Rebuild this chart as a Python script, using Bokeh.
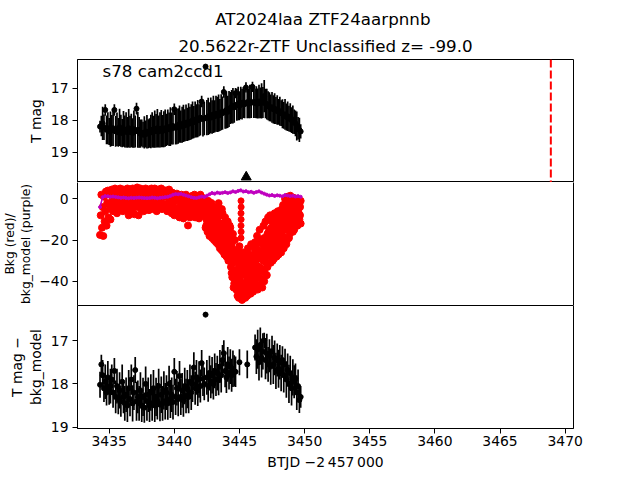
import numpy as np
from bokeh.plotting import figure
from bokeh.layouts import column
from bokeh.models import (Range1d, Span, Label, FixedTicker, ColumnDataSource, Title,
                          LinearAxis)
from bokeh.embed import file_html
from bokeh.resources import INLINE

nan = float("nan")

# ---------------- data ----------------
t_all = [
    3434.30, 3434.35, 3434.40, 3434.45, 3434.50, 3434.55, 3434.60, 3434.65, 3434.70, 3434.75,
    3434.80, 3434.85, 3434.90, 3434.95, 3435.00, 3435.05, 3435.10, 3435.15, 3435.20, 3435.25,
    3435.30, 3435.35, 3435.40, 3435.45, 3435.50, 3435.55, 3435.60, 3435.65, 3435.70, 3435.75,
    3435.80, 3435.85, 3435.90, 3435.95, 3436.00, 3436.05, 3436.10, 3436.15, 3436.20, 3436.25,
    3436.30, 3436.35, 3436.40, 3436.45, 3436.50, 3436.55, 3436.60, 3436.65, 3436.70, 3436.75,
    3436.80, 3436.85, 3436.90, 3436.95, 3437.00, 3437.05, 3437.10, 3437.15, 3437.20, 3437.25,
    3437.30, 3437.35, 3437.40, 3437.45, 3437.50, 3437.55, 3437.60, 3437.65, 3437.70, 3437.75,
    3437.80, 3437.85, 3437.90, 3437.95, 3438.00, 3438.05, 3438.10, 3438.15, 3438.20, 3438.25,
    3438.30, 3438.35, 3438.40, 3438.45, 3438.50, 3438.55, 3438.60, 3438.65, 3438.70, 3438.75,
    3438.80, 3438.85, 3438.90, 3438.95, 3439.00, 3439.05, 3439.10, 3439.15, 3439.20, 3439.25,
    3439.30, 3439.35, 3439.40, 3439.45, 3439.50, 3439.55, 3439.60, 3439.65, 3439.70, 3439.75,
    3439.80, 3439.85, 3439.90, 3439.95, 3440.00, 3440.05, 3440.10, 3440.15, 3440.20, 3440.25,
    3440.30, 3440.35, 3440.40, 3440.45, 3440.50, 3440.55, 3440.60, 3440.65, 3440.70, 3440.75,
    3440.80, 3440.85, 3440.90, 3440.95, 3441.00, 3441.05, 3441.10, 3441.15, 3441.20, 3441.25,
    3441.30, 3441.35, 3441.40, 3441.45, 3441.50, 3441.55, 3441.60, 3441.65, 3441.70, 3441.75,
    3441.80, 3441.85, 3441.90, 3441.95, 3442.00, 3442.05, 3442.10, 3442.15, 3442.20, 3442.25,
    3442.30, 3442.35, 3442.40, 3442.45, 3442.50, 3442.55, 3442.60, 3442.65, 3442.70, 3442.75,
    3442.80, 3442.85, 3442.90, 3442.95, 3443.00, 3443.05, 3443.10, 3443.15, 3443.20, 3443.25,
    3443.30, 3443.35, 3443.40, 3443.45, 3443.50, 3443.55, 3443.60, 3443.65, 3443.70, 3443.75,
    3443.80, 3443.85, 3443.90, 3443.95, 3444.00, 3444.05, 3444.10, 3444.15, 3444.20, 3444.25,
    3444.30, 3444.35, 3444.40, 3444.45, 3444.50, 3444.55, 3444.60, 3444.65, 3444.70, 3444.75,
    3444.80, 3444.85, 3444.90, 3444.95, 3445.00, 3445.05, 3445.10, 3445.15, 3445.20, 3445.25,
    3445.30, 3445.35, 3445.40, 3445.45, 3445.50, 3445.55, 3445.60, 3445.65, 3445.70, 3445.75,
    3445.80, 3445.85, 3445.90, 3445.95, 3446.00, 3446.05, 3446.10, 3446.15, 3446.20, 3446.25,
    3446.30, 3446.35, 3446.40, 3446.45, 3446.50, 3446.55, 3446.60, 3446.65, 3446.70, 3446.75,
    3446.80, 3446.85, 3446.90, 3446.95, 3447.00, 3447.05, 3447.10, 3447.15, 3447.20, 3447.25,
    3447.30, 3447.35, 3447.40, 3447.45, 3447.50, 3447.55, 3447.60, 3447.65, 3447.70, 3447.75,
    3447.80, 3447.85, 3447.90, 3447.95, 3448.00, 3448.05, 3448.10, 3448.15, 3448.20, 3448.25,
    3448.30, 3448.35, 3448.40, 3448.45, 3448.50, 3448.55, 3448.60, 3448.65, 3448.70, 3448.75,
    3448.80, 3448.85, 3448.90, 3448.95, 3449.00, 3449.05, 3449.10, 3449.15, 3449.20, 3449.25,
    3449.30, 3449.35, 3449.40, 3449.45, 3449.50, 3449.55, 3449.60, 3449.65, 3449.70,
]
t_top = t_all[::2]
t_model = t_all[::4]
t_dip = t_all[160:]

# top panel: T mag and its error
tmag = [
    18.20, 18.18, 18.10, 18.22, 17.68, 18.30, 18.25, 18.35, 18.28, 18.32,
    18.25, 17.68, 18.35, 18.28, 18.38, 18.22, 18.33, 18.40, 18.27, 18.35,
    18.30, 18.38, 18.25, 18.36, 18.32, 18.40, 18.28, 18.35, 17.64, 18.30,
    18.38, 18.42, 18.40, 18.45, 18.38, 18.43, 18.36, 18.42, 18.40, 18.35,
    18.30, 18.36, 18.28, 18.33, 18.25, 18.35, 18.30, 18.26, 18.34, 18.28,
    18.25, 18.30, 18.22, 18.28, 18.20, 18.26, 18.18, 17.66, 18.24, 18.20,
    18.18, 18.12, 18.20, 18.14, 18.10, 18.16, 18.08, 18.13, 18.05, 18.10,
    18.05, 18.00, 18.06, 17.98, 18.02, 17.95, 18.00, 17.92, 17.42, 17.96,
    17.95, 16.33, 17.92, 17.88, 17.94, 17.85, 17.90, 17.82, 17.88, 17.80,
    17.82, 17.78, 17.84, 17.75, 17.78, 17.12, 17.72, 17.68, 17.74, 17.65,
    17.62, 17.58, 17.55, 17.60, 17.16, 17.52, 17.48, 17.55, 17.46, 17.50,
    17.45, 17.50, 16.98, 17.44, 17.48, 17.42, 17.46, 16.96, 17.43, 17.47,
    17.44, 17.48, 17.42, 17.46, 17.40, 17.45, 17.25, 17.48, 17.50, 17.55,
    17.58, 17.62, 17.60, 17.66, 17.64, 17.70, 17.68, 17.74, 17.72, 17.78,
    17.80, 17.85, 17.82, 17.90, 17.88, 17.95, 17.92, 18.00, 17.98, 18.05,
    18.10, 18.18, 18.25, 18.30, 18.35,
]
tmag_err = [
    0.18, 0.32, 0.52, 0.40, 0.18, 0.45, 0.50, 0.42, 0.55, 0.48,
    0.55, 0.18, 0.48, 0.52, 0.45, 0.58, 0.50, 0.44, 0.56, 0.50,
    0.55, 0.48, 0.60, 0.50, 0.52, 0.46, 0.58, 0.50, 0.18, 0.56,
    0.48, 0.44, 0.42, 0.40, 0.50, 0.42, 0.52, 0.45, 0.46, 0.52,
    0.55, 0.50, 0.58, 0.52, 0.60, 0.50, 0.55, 0.58, 0.50, 0.56,
    0.58, 0.50, 0.55, 0.52, 0.60, 0.50, 0.58, 0.18, 0.52, 0.55,
    0.55, 0.58, 0.50, 0.56, 0.58, 0.50, 0.57, 0.52, 0.58, 0.52,
    0.55, 0.58, 0.50, 0.56, 0.52, 0.58, 0.50, 0.56, 0.18, 0.55,
    0.52, 0.05, 0.55, 0.58, 0.50, 0.56, 0.52, 0.58, 0.50, 0.56,
    0.55, 0.58, 0.50, 0.56, 0.52, 0.18, 0.55, 0.58, 0.50, 0.56,
    0.50, 0.52, 0.55, 0.48, 0.16, 0.50, 0.52, 0.45, 0.50, 0.48,
    0.48, 0.44, 0.16, 0.50, 0.46, 0.52, 0.47, 0.16, 0.50, 0.46,
    0.50, 0.47, 0.52, 0.48, 0.55, 0.48, 0.50, 0.46, 0.48, 0.45,
    0.45, 0.42, 0.48, 0.44, 0.48, 0.42, 0.46, 0.40, 0.45, 0.40,
    0.45, 0.42, 0.48, 0.42, 0.46, 0.40, 0.45, 0.40, 0.44, 0.38,
    0.40, 0.45, 0.35, 0.38, 0.22,
]

# middle panel: background flux (red) and background model (purple)
bkg = [
    -17.5, -8, 2, -14, -4, -18, 1, -11, -6, 3.5, -13, -2, 4, -9, -3, 2, -10, -5, 4.5, -1,
    -6, 3, -2, 5, -4, 1, -7, 4, -1, 2, -5, 5, 0, -3, 3, -6, 4.5, -2, 1, -4.5,
    3, -5, 5, -1, -8, 2, 4.5, -3, 0, -6, 5, -2, 3, -7.5, 1, 4, -4, 5.5, -1, -8,
    2, -3, 5, -5, 1, 4, -2, -6, 3, 0, 5, -4, 2, -1, 4.5, -5.5, 1, 3, -3, 5,
    -2, 4, -5, 1, 5, -3, 2, -6, 3.5, 0, 4.5, -4, 1, -1, 5, -5, 2, 3, -2.5, 4,
    -4, 4, 1, -6, 3, -2, 4.5, -5, 0, 2, -7, 3, -3, 1, -8, 2, -1, -5, 2.5, -6.5,
    1, -5, -9, 0, -3, 2, -7, -1, -9.5, 1.5, -4, -6, 2, -8, -2, -12.9, 0, -5, -9, 1,
    -3, -8, 1.5, -6, -1, 2, -9, -4, 0, -7, 1, -2, -9.5, -5, 2, -3, -8, 0.5, -6, -1,
    0, -8, -14, -3, -10.5, -16, -1, -12, -18, -5, -15, -2, -19, -9, -4, -20, -13, -6, -21, -11,
    -5, -22, -2.1, -14, -24, -8, -18, -25, -7, -20, -12, -27, -9, -22, -28, -15, -11, -30, -19, -25,
    -14, -33, -22, -38, -17, -28, -41, -20, -35, -44, -25, -47, -31, -48, -23, -40, -46, -28, -49, -36,
    -26, -45, -33, -48, -29, -40, -47, -24, -37, -44, -30, -46, -22, -41, -35, -45, -27, -39, -21, -43,
    -32, -18, -44, -26, -38, -15, -42, -29, -20, -43, -35, -13, -40, -24, -11, -31, -37, -17, -9, -28,
    -22, -8, -31, -14, -26, -10, -19, -29, -7, -24, -12, -28, -17, -6, -27, -21, -9, -15, -26, -5,
    -18, -3, -24, -10, 0, -15, -6, -20, 1, -12, -4, -17, 1.5, -9, -14, -2, -16, 0.5, -7, -12,
    -3, -11, 0, -13, -6, -1, -10, -4, -12,
]
# second background reading per cadence in the dip (from 3442.30 on)
bkg_dip = [
    -5, -2, -9, -13, -6, -11, -15, -8, -4, -14, -10, -17, -7, -13, -16, -11, -5, -18, -9, -15,
    -17, -11, -20, -8, -16, -21, -12, -5, -23, -15, -26, -18, -24, -14, -20, -26, -22, -17, -29, -13,
    -26, -19, -36, -24, -31, -43, -25, -38, -30, -27, -39, -34, -42, -29, -45, -33, -37, -43, -32, -47,
    -37, -31, -42, -35, -44, -33, -28, -42, -31, -27, -39, -34, -43, -28, -40, -31, -36, -24, -41, -33,
    -24, -38, -29, -35, -21, -33, -25, -39, -34, -27, -22, -30, -19, -36, -27, -20, -24, -33, -21, -16,
    -15, -27, -18, -22, -11, -30, -24, -13, -20, -16, -26, -9, -23, -19, -13, -11, -22, -25, -8, -18,
    -9, -21, -13, -5, -19, -8, -22, -2, -14, -7, -19, -10, -5, -16, -1, -11, -8, -13, -15, -3,
    -8, -5, -9, -2, -11, -7, -3, -8, -1,
]
t_spike = [3445.12, 3445.13, 3445.12, 3445.13, 3445.12, 3445.13, 3445.12]
bkg_spike = [-1, -4, -7, -10, -13, -16, -19]
bkg_model = [
    -4.0, 0.8, 1.3, 1.2, 1.0,
    1.1, 0.9, 0.7, 0.5, 0.6,
    0.4, 0.3, 0.5, 0.4, 0.5,
    0.6, 0.5, 0.4, 0.3, 0.4,
    0.6, 0.5, 0.3, 0.5, 0.6,
    0.8, 1.0, 1.4, 2.0, 2.3,
    2.2, 2.4, 2.0, 1.6, 1.2,
    0.8, 0.5, 0.4, 0.7, 1.1,
    0.9, 1.5, 2.2, 2.8, 2.5,
    3.0, 2.7, 2.9, 3.2, 2.8,
    3.1, 3.6, 3.3, 3.8, 4.1,
    3.5, 3.7, 3.2, 3.4, 2.9,
    3.3, 3.6, 3.0, 2.5, 2.0,
    1.6, 1.8, 1.4, 1.7, 1.5,
    1.2, 1.8, 1.6, 1.3, 1.5,
    1.1, 1.3, 1.0,
]

# bottom panel: T mag - bkg_model
tmag_corr = [
    18.02, 17.55, 17.80, 18.10, 17.95, 18.20, 17.85, 18.15, 18.05, 17.90,
    18.20, 17.70, 18.30, 18.05, 18.35, 18.15, 18.40, 17.95, 18.30, 18.45,
    18.25, 18.50, 18.10, 18.35, 17.90, 18.45, 18.20, 17.68, 18.40, 18.30,
    18.45, 18.15, 18.50, 18.30, 18.55, 18.00, 18.40, 18.25, 18.50, 18.20,
    18.45, 18.10, 18.50, 18.30, 18.40, 18.05, 18.48, 18.25, 18.45, 18.15,
    18.40, 18.20, 18.45, 18.00, 18.35, 18.25, 18.42, 17.72, 18.30, 18.10,
    18.35, 17.82, 18.30, 18.15, 18.38, 18.05, 18.28, 18.12, 18.30, 17.95,
    18.20, 18.00, 17.62, 18.10, 17.85, 18.15, 17.90, 18.05, 17.52, 17.88,
    18.00, 16.40, 17.85, 18.05, 17.75, 17.95, 17.80, 18.00, 17.70, 17.90,
    17.75, 17.90, 17.60, 17.80, 17.45, 17.29, 17.70, 17.85, 17.55, 17.75,
    17.60, 17.80, 17.65, 17.70, 17.72, nan, nan, 17.50, nan, nan,
    nan, nan, nan, 17.55, nan, nan, nan, nan, nan, 17.16,
    17.37, 17.20, 17.50, 17.10, 17.40, 17.25, 17.00, 17.45, 17.30, 17.55,
    17.35, 17.60, 17.25, 17.55, 17.40, 17.70, 17.45, 17.65, 17.50, 17.75,
    17.45, 17.80, 17.55, 17.90, 17.68, 18.00, 17.75, 18.10, 17.85, 17.95,
    17.88, 18.20, 18.05, 18.37, 18.30,
]
tmag_corr_err = [
    0.30, 0.22, 0.35, 0.32, 0.40, 0.30, 0.38, 0.33, 0.40, 0.35,
    0.35, 0.30, 0.38, 0.40, 0.35, 0.42, 0.36, 0.40, 0.38, 0.40,
    0.40, 0.38, 0.42, 0.40, 0.35, 0.42, 0.40, 0.30, 0.45, 0.38,
    0.40, 0.42, 0.38, 0.44, 0.35, 0.40, 0.45, 0.40, 0.38, 0.42,
    0.40, 0.42, 0.38, 0.44, 0.42, 0.40, 0.38, 0.42, 0.40, 0.44,
    0.42, 0.40, 0.38, 0.42, 0.44, 0.40, 0.40, 0.32, 0.42, 0.40,
    0.40, 0.35, 0.42, 0.40, 0.38, 0.42, 0.40, 0.44, 0.38, 0.40,
    0.40, 0.42, 0.35, 0.38, 0.40, 0.36, 0.42, 0.38, 0.30, 0.40,
    0.38, 0.06, 0.40, 0.36, 0.40, 0.38, 0.42, 0.36, 0.40, 0.38,
    0.40, 0.36, 0.38, 0.40, 0.35, 0.30, 0.38, 0.36, 0.40, 0.38,
    0.40, 0.38, 0.42, 0.36, 0.35, nan, nan, 0.30, nan, nan,
    nan, nan, nan, 0.32, nan, nan, nan, nan, nan, 0.30,
    0.40, 0.45, 0.42, 0.40, 0.45, 0.42, 0.18, 0.44, 0.46, 0.40,
    0.38, 0.42, 0.36, 0.45, 0.40, 0.42, 0.38, 0.44, 0.40, 0.42,
    0.32, 0.40, 0.36, 0.42, 0.38, 0.44, 0.40, 0.40, 0.42, 0.38,
    0.35, 0.40, 0.38, 0.30, 0.25,
]

tri_t = [3445.52]
tri_mag = [19.77]
peak_t = 3468.9

x_ticks = [3435, 3440, 3445, 3450, 3455, 3460, 3465, 3470]
top_ticks = [17, 18, 19]
mid_ticks = [0, -20, -40]
mid_tick_labels = {0: "0", -20: "\u221220", -40: "\u221240"}
bot_ticks = [17, 18, 19]

title_line1 = "AT2024laa  ZTF24aarpnnb"
title_line2 = "20.5622r-ZTF Unclassified z= -99.0"
sector_text = "s78 cam2ccd1"
x_label = "BTJD \u22122\u2009457\u2009000"

# ---------------- plotting ----------------
FONT = "DejaVu Sans"
xr = Range1d(3432.57, 3470.64)


def make_fig(yr, top_b, bottom_b, x_axis):
    p = figure(
        frame_width=496, frame_height=123,
        x_range=xr, y_range=yr,
        output_backend="svg", toolbar_location=None,
        min_border_left=72, min_border_right=52,
        min_border_top=top_b, min_border_bottom=bottom_b,
        x_axis_location="below" if x_axis else None,
        background_fill_color="white", border_fill_color="white",
    )
    p.grid.visible = False
    p.outline_line_color = "black"
    p.outline_line_width = 1
    for ax in p.yaxis:
        ax.major_label_text_font = FONT
        ax.major_label_text_font_size = "13.9px"
        ax.major_label_text_color = "black"
        ax.axis_label_text_font = FONT
        ax.axis_label_text_font_size = "13.9px"
        ax.axis_label_text_font_style = "normal"
        ax.axis_label_text_color = "black"
        ax.major_tick_out = 5
        ax.major_tick_in = 0
        ax.minor_tick_line_color = None
        ax.axis_line_color = "black"
        ax.major_tick_line_color = "black"
        ax.major_label_standoff = 4
        ax.axis_label_standoff = 4
    return p


def err_source(t, m, e):
    n = min(len(t), len(m), len(e))
    t = np.array(t[:n], dtype=float)
    m = np.array(m[:n], dtype=float)
    e = np.array(e[:n], dtype=float)
    return ColumnDataSource(dict(t=t, m=m, lo=m - e, hi=m + e))


def title(text, standoff):
    return Title(text=text, align="center", text_font=FONT, text_font_size="16.7px",
                 text_font_style="normal", text_color="black", standoff=standoff)


# top panel
p1 = make_fig(Range1d(19.94, 16.11), 59, 0, False)
p1.add_layout(title(title_line2, 8), "above")
p1.add_layout(title(title_line1, 2), "above")
s1 = err_source(t_top, tmag, tmag_err)
p1.segment(x0="t", y0="lo", x1="t", y1="hi", source=s1, line_color="black", line_width=1.7)
p1.scatter(x="t", y="m", source=s1, size=5, color="black")
p1.scatter(tri_t, tri_mag, marker="triangle", size=10, color="black")
p1.add_layout(Span(location=peak_t, dimension="height", line_color="red",
                   line_width=2, line_dash="8 3"))
p1.add_layout(Label(x=3434.49, y=16.48, text=sector_text, text_font=FONT,
                    text_font_size="16.7px", text_baseline="alphabetic",
                    text_color="black"))
p1.yaxis.ticker = FixedTicker(ticks=top_ticks)
p1.yaxis.axis_label = "T mag"

# middle panel (top/bottom edges come from the neighbouring panels' outlines)
p2 = make_fig(Range1d(-51.7, 7.9), 0, 0, False)
p2.outline_line_color = None
right_edge = LinearAxis(ticker=FixedTicker(ticks=[]), axis_line_color="black",
                        major_tick_line_color=None, minor_tick_line_color=None,
                        major_label_text_font_size="0px")
p2.add_layout(right_edge, "right")
n_b = min(len(t_all), len(bkg))
p2.scatter(t_all[:n_b], bkg[:n_b], size=7, color="red")
n_d = min(len(t_dip), len(bkg_dip))
p2.scatter(t_dip[:n_d], bkg_dip[:n_d], size=7, color="red")
p2.scatter(t_spike, bkg_spike, size=6, color="red")
n_m = min(len(t_model), len(bkg_model))
p2.line(t_model[:n_m], bkg_model[:n_m], line_color="#bf00bf", line_width=1.6)
p2.scatter(t_model[:n_m], bkg_model[:n_m], size=3, color="#bf00bf")
p2.yaxis[0].ticker = FixedTicker(ticks=mid_ticks)
p2.yaxis[0].major_label_overrides = mid_tick_labels
p2.yaxis[0].axis_label = "Bkg (red)/\nbkg_model (purple)"
p2.yaxis[0].axis_label_text_font_size = "12.3px"
p2.yaxis[0].axis_label_text_line_height = 1.15
p2.yaxis[0].axis_label_standoff = 3

# bottom panel
p3 = make_fig(Range1d(19.03, 16.19), 0, 45, True)
s3 = err_source(t_top, tmag_corr, tmag_corr_err)
p3.segment(x0="t", y0="lo", x1="t", y1="hi", source=s3, line_color="black", line_width=1.7)
p3.scatter(x="t", y="m", source=s3, size=5, color="black")
p3.yaxis.ticker = FixedTicker(ticks=bot_ticks)
p3.yaxis.axis_label = "T mag \u2212\nbkg_model"
p3.yaxis.axis_label_text_line_height = 1.15
xa = p3.xaxis[0]
xa.ticker = FixedTicker(ticks=x_ticks)
xa.axis_label = x_label
xa.major_label_text_font = FONT
xa.major_label_text_font_size = "13.9px"
xa.major_label_text_color = "black"
xa.axis_label_text_font = FONT
xa.axis_label_text_font_size = "13.9px"
xa.axis_label_text_font_style = "normal"
xa.axis_label_text_color = "black"
xa.major_tick_out = 5
xa.major_tick_in = 0
xa.minor_tick_line_color = None
xa.major_label_standoff = 2
xa.axis_label_standoff = 5

layout = column(p1, p2, p3)

open("out.html", "w").write(file_html(layout, INLINE))
